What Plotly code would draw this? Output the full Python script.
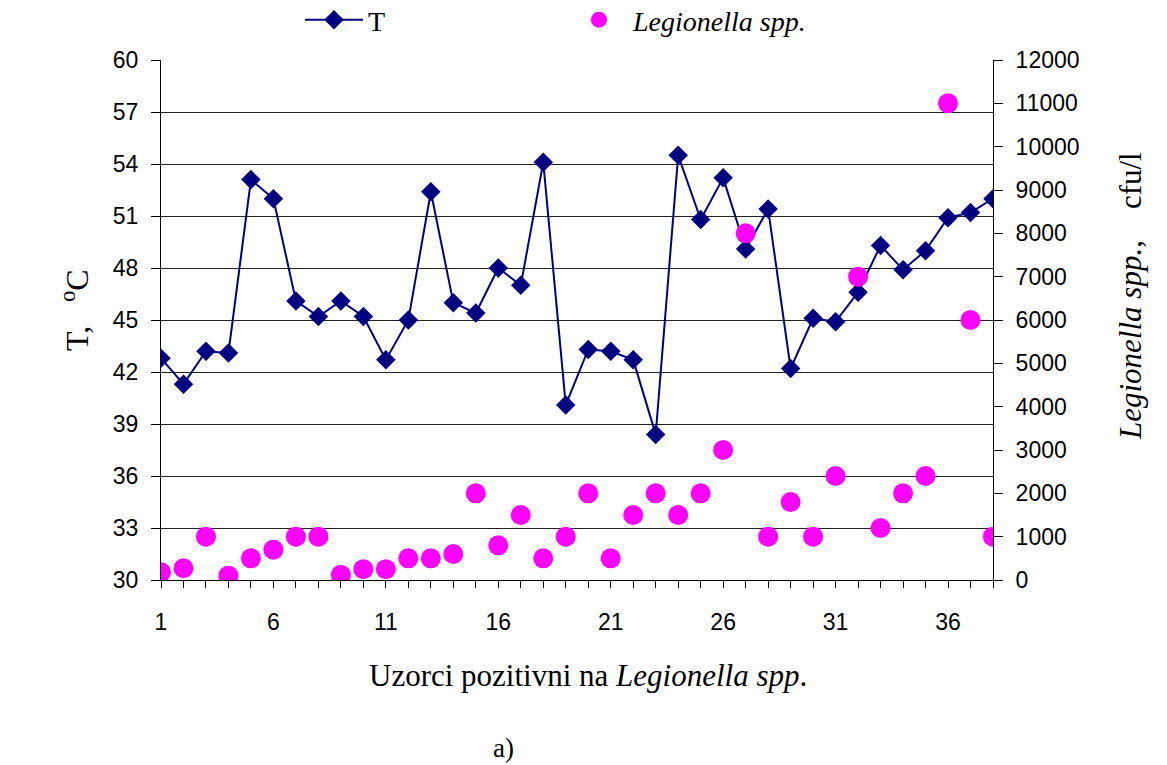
import plotly.graph_objects as go

# Sample index (positive samples)
samples = list(range(1, 39))

# Water temperature, °C
temperature = [42.8, 41.3, 43.2, 43.1, 53.1, 52.0, 46.1, 45.2, 46.1, 45.2,
               42.7, 45.0, 52.4, 46.0, 45.4, 48.0, 47.0, 54.1, 40.1, 43.3,
               43.2, 42.7, 38.4, 54.5, 50.8, 53.2, 49.1, 51.4, 42.2, 45.1,
               44.9, 46.6, 49.3, 47.9, 49.0, 50.9, 51.2, 52.0]

# Legionella spp. count, cfu/l
legionella = [180, 270, 1000, 100, 500, 700, 1000, 1000, 120, 250,
              250, 500, 500, 600, 2000, 800, 1500, 500, 1000, 2000,
              500, 1500, 2000, 1500, 2000, 3000, 8000, 1000, 1800, 1000,
              2400, 7000, 1200, 2000, 2400, 11000, 6000, 1000]

x_labels = [str(v) if (v - 1) % 5 == 0 else "" for v in samples]

SERIF = "Liberation Serif, Times New Roman, serif"
SANS = "Liberation Sans, Arial, sans-serif"

W, H = 1167, 765
ML, MR, MT, MB = 161, 174, 60, 185
PW, PH = W - ML - MR, H - MT - MB


def px(x, y):
    """Page pixel position -> paper coordinates."""
    return (x - ML) / PW, (H - MB - y) / PH


fig = go.Figure()

fig.add_trace(go.Scatter(
    x=samples, y=temperature, name="T", mode="lines+markers",
    line=dict(color="#000080", width=2),
    marker=dict(symbol="diamond", size=15, color="#000080"),
    yaxis="y",
))

fig.add_trace(go.Scatter(
    x=samples, y=legionella, name="<i>Legionella spp.</i>", mode="markers",
    marker=dict(symbol="circle", size=20, color="#FF00FF"),
    yaxis="y2",
))

lx, ly = px(300, 20)

annotations = []
for text, x, y, size in [
    ("T,   <sup>o</sup>C", 75, 310, 32),
    ("<i>Legionella spp.</i>,    cfu/l", 1130, 296, 31),
]:
    ax, ay = px(x, y)
    annotations.append(dict(text=text, x=ax, y=ay, xref="paper", yref="paper",
                            xanchor="center", yanchor="middle",
                            showarrow=False, textangle=-90,
                            font=dict(family=SERIF, size=size, color="black")))
for text, x, y, size in [
    ("Uzorci pozitivni na <i>Legionella spp</i>.", 588, 675, 31),
    ("a)", 503, 748, 27),
]:
    ax, ay = px(x, y)
    annotations.append(dict(text=text, x=ax, y=ay, xref="paper", yref="paper",
                            xanchor="center", yanchor="middle",
                            showarrow=False,
                            font=dict(family=SERIF, size=size, color="black")))

fig.update_layout(
    width=W, height=H,
    margin=dict(l=ML, r=MR, t=MT, b=MB, autoexpand=False),
    paper_bgcolor="white", plot_bgcolor="white",
    showlegend=True,
    legend=dict(
        orientation="h", x=lx, y=ly, xanchor="left", yanchor="middle",
        font=dict(family=SERIF, size=28, color="black"),
        itemwidth=58,
        entrywidth=192, entrywidthmode="pixels",
        bgcolor="rgba(0,0,0,0)",
    ),
    xaxis=dict(
        range=[1, 38], tickvals=samples, ticktext=x_labels,
        ticks="outside", ticklen=7, tickcolor="black", tickwidth=1,
        showline=True, linecolor="black", linewidth=1,
        showgrid=False, zeroline=False,
        tickfont=dict(family=SANS, size=23, color="black"),
        ticklabelstandoff=14,
    ),
    yaxis=dict(
        range=[30, 60], dtick=3, tick0=30,
        ticks="outside", ticklen=9, tickcolor="black",
        showline=True, linecolor="black", linewidth=1,
        showgrid=True, gridcolor="#222222", gridwidth=1,
        zeroline=False,
        tickfont=dict(family=SANS, size=23, color="black"),
        ticklabelstandoff=8,
    ),
    yaxis2=dict(
        range=[0, 12000], dtick=1000, tick0=0, tickformat="d",
        overlaying="y", side="right",
        ticks="outside", ticklen=9, tickcolor="black",
        showline=True, linecolor="black", linewidth=1,
        showgrid=False, zeroline=False,
        tickfont=dict(family=SANS, size=23, color="black"),
        ticklabelstandoff=8,
    ),
    annotations=annotations,
)

fig.write_html("out.html")
